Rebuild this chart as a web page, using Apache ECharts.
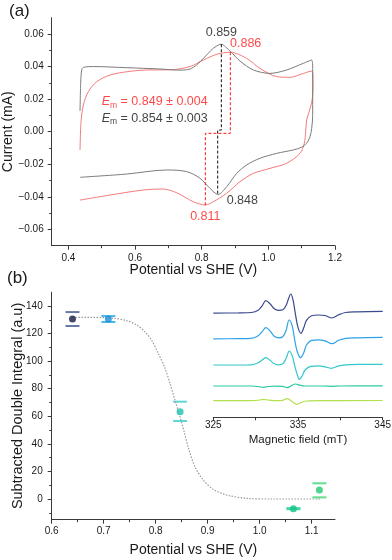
<!DOCTYPE html>
<html>
<head>
<meta charset="utf-8">
<script src="https://cdn.jsdelivr.net/npm/echarts@6/dist/echarts.min.js"></script>
<style>
  html, body { margin: 0; padding: 0; background: #fff; }
  #chart { width: 392px; height: 560px; }
</style>
</head>
<body>
<div id="chart"></div>
<script>
// (a) cyclic voltammograms, [potential V, current mA] in sweep order
const cvGray = [
  [0.435, 0.0127], [0.437, 0.030], [0.440, 0.0379], [0.445, 0.0395], [0.475, 0.0400],
  [0.575, 0.0393], [0.675, 0.0385], [0.735, 0.0378], [0.765, 0.0385], [0.785, 0.0410],
  [0.805, 0.0450], [0.835, 0.0512], [0.858, 0.0537], [0.885, 0.0495], [0.915, 0.0434],
  [0.955, 0.0379], [1.005, 0.0358], [1.055, 0.0379], [1.105, 0.0420], [1.130, 0.0440],
  [1.133, 0.0380], [1.133, 0.0100], [1.130, 0.0020], [1.125, -0.0030], [1.115, -0.0071],
  [1.100, -0.0095], [1.075, -0.0112], [1.025, -0.0133], [0.975, -0.0163], [0.935, -0.0204],
  [0.905, -0.0256], [0.875, -0.0338], [0.849, -0.0385], [0.825, -0.0348], [0.795, -0.0286],
  [0.755, -0.0245], [0.695, -0.0235], [0.575, -0.0260], [0.435, -0.0280]
];
const cvRed = [
  [0.435, -0.0112], [0.438, 0.0061], [0.445, 0.0164], [0.460, 0.0246], [0.485, 0.0307],
  [0.525, 0.0348], [0.575, 0.0368], [0.635, 0.0379], [0.705, 0.0380], [0.765, 0.0400],
  [0.805, 0.0440], [0.845, 0.0475], [0.886, 0.0488], [0.935, 0.0450], [0.975, 0.0389],
  [1.025, 0.0338], [1.065, 0.0334], [1.105, 0.0358], [1.130, 0.0372], [1.134, 0.0340],
  [1.134, 0.0250], [1.130, 0.0180], [1.122, 0.0120], [1.115, 0.0072], [1.112, 0.0000],
  [1.108, -0.0070], [1.095, -0.0133], [1.055, -0.0194], [1.005, -0.0225], [0.955, -0.0256],
  [0.915, -0.0307], [0.875, -0.0378], [0.835, -0.0430], [0.811, -0.0450], [0.775, -0.0430],
  [0.725, -0.0375], [0.685, -0.0352], [0.625, -0.0358], [0.525, -0.0389], [0.435, -0.0420]
];
// peak / midpoint construction lines
const emGray = [[0.859, 0.0537], [0.859, 0.001], [0.848, 0.001], [0.848, -0.0389]];
const emRed = [[0.886, 0.0488], [0.886, -0.001], [0.811, -0.001], [0.811, -0.046]];
// annotation anchors [x, y, text]
const labelsBlack = [[0.859, 0.0609, '0.859']];
const labelsBlackLeft = [[0.875, -0.0422, '0.848']];
const labelsRed = [[0.811, -0.0522, '0.811']];
const labelsRedLeft = [[0.885, 0.054, '0.886']];
const emTextRed = [[0.50, 0.0184, '0.849 ± 0.004']];
const emTextBlack = [[0.50, 0.0082, '0.854 ± 0.003']];

// (b) subtracted double integral vs potential
const potential = [0.640, 0.709, 0.847, 1.065, 1.115];
const integral = [130.6, 130.6, 63.3, -7.0, 6.5];
const errLow = [125.5, 128.4, 56.6, -7.4, 1.2];
const errHigh = [135.6, 132.7, 70.6, -6.6, 11.4];
const pointColors = ['#141a42', '#1e8fd6', '#1cc0b2', '#12c482', '#26c870'];
const capColors = ['#6a78a8', '#4cb8ee', '#62d6d8', '#48d8aa', '#5ee08e'];
const fitV = [0.640, 0.700, 0.720, 0.744, 0.7635, 0.779, 0.792, 0.805, 0.818, 0.8275, 0.837,
  0.847, 0.855, 0.863, 0.8756, 0.8915, 0.9108, 0.9365, 0.975, 1.026, 1.116];
const fitY = [131.8, 131.6, 131.1, 129.4, 126.2, 121.4, 115.3, 105.7, 94.8, 83.9, 71.8,
  59.5, 48.5, 37.0, 23.4, 13.8, 7.0, 2.9, 0.5, 0.0, 0.0];

// inset: EPR spectra, [field mT, offset trace value]
const epr1 = [[325, 104.2], [328, 104.4], [329.5, 104.8], [330.3, 107], [330.8, 112], [331.2, 116.6],
  [331.7, 113.5], [332.2, 108.5], [332.7, 107], [333.2, 107.5], [333.6, 112], [333.9, 119],
  [334.13, 123.3], [334.4, 118], [334.7, 103], [335, 90], [335.35, 84], [335.7, 90], [336, 97],
  [336.6, 101.6], [337.4, 102.3], [338.2, 101.8], [339, 99.3], [339.8, 102.5], [340.6, 104.8],
  [342, 105.5], [345, 106]];
const epr2 = [[325, 78.5], [328, 78.6], [329.5, 79], [330.3, 81.5], [330.8, 86], [331.2, 89.6],
  [331.7, 86.5], [332.2, 81], [332.7, 79.5], [333.2, 80.5], [333.6, 87], [333.95, 97.3],
  [334.3, 92], [334.6, 78], [334.9, 66], [335.3, 59.6], [335.7, 65], [336, 72.3], [336.6, 77],
  [337.4, 77.5], [338.2, 76.5], [339, 73.6], [339.8, 77], [340.6, 79], [342, 79.5], [345, 80]];
const epr3 = [[325, 52.3], [328, 52.3], [329.5, 52.5], [330.3, 54.5], [330.8, 57.5], [331.2, 59.6],
  [331.7, 57], [332.2, 53.5], [332.7, 52.5], [333.2, 53.5], [333.6, 59], [333.98, 66.3],
  [334.3, 62], [334.6, 52], [334.9, 43], [335.16, 38], [335.5, 41.5], [335.83, 47.3], [336.5, 51],
  [337.4, 51.5], [338.2, 50.5], [338.9, 49], [339.8, 51.5], [340.6, 52.5], [342, 53], [345, 53]];
const epr4 = [[325, 31.3], [329.5, 31.3], [330.5, 30.5], [330.9, 30], [331.5, 30.8], [332.5, 31.2],
  [333.2, 31], [333.7, 29.6], [334.1, 31], [334.7, 33.3], [335.2, 32.2], [335.8, 31.3],
  [338, 31.3], [339, 31], [340, 31.3], [345, 31.4]];
const epr5 = [[325, 16.6], [329.5, 16.7], [330.5, 17.3], [330.9, 18], [331.5, 17.2], [332.5, 16.6],
  [333.2, 17], [333.7, 18.6], [334.1, 17], [334.5, 14.5], [334.9, 13], [335.4, 14.8], [336, 16.3],
  [338, 16.6], [345, 16.8]];
const eprColors = ['#3b4a8f', '#2ea3e6', '#33c8cc', '#2ccaa6', '#b2e04e'];

// tick positions
const topXMajor = [0.4, 0.6, 0.8, 1.0, 1.2];
const topXMinor = [0.5, 0.7, 0.9, 1.1];
const topYMajor = [-0.06, -0.04, -0.02, 0, 0.02, 0.04, 0.06];
const topYMinor = [-0.05, -0.03, -0.01, 0.01, 0.03, 0.05];
const botXMajor = [0.6, 0.7, 0.8, 0.9, 1.0, 1.1];
const botXMinor = [0.65, 0.75, 0.85, 0.95, 1.05];
const botYMajor = [0, 20, 40, 60, 80, 100, 120, 140];
const botYMinor = [-10, 10, 30, 50, 70, 90, 110, 130];
const insetTicks = [325, 330, 335, 340, 345];
const insetLabels = [325, 335, 345];

const FONT = 'Liberation Sans';
const AXC = '#3a3a3a';
const TXT = '#1a1a1a';

function mainAxis(gridIndex, min, max, labels, ticks, fmt, extra) {
  return Object.assign({
    type: 'value', gridIndex, min, max, nameMoveOverlap: false,
    axisLine: { show: true, onZero: false, lineStyle: { color: AXC, width: 1 } },
    axisTick: { show: true, customValues: ticks, length: 4, lineStyle: { color: AXC } },
    axisLabel: { customValues: labels, formatter: fmt, color: TXT, fontSize: 10, fontFamily: FONT },
    splitLine: { show: false }
  }, extra);
}
function minorAxis(gridIndex, min, max, ticks, position) {
  return {
    type: 'value', gridIndex, min, max, position, offset: 0,
    axisLine: { show: true, onZero: false, lineStyle: { opacity: 0 } },
    axisTick: { show: true, customValues: ticks, length: 2.5, lineStyle: { color: AXC } },
    axisLabel: { show: false },
    splitLine: { show: false }
  };
}
const nameStyle = { color: TXT, fontSize: 14, fontFamily: FONT };

function textSeries(data, color, align, xi, yi) {
  return {
    type: 'scatter', xAxisIndex: xi, yAxisIndex: yi, symbolSize: 0, silent: true, z: 5,
    data: data.map(d => ({ value: [d[0], d[1]], label: { formatter: d[2] } })),
    label: { show: true, position: [0, 0], align, verticalAlign: 'middle',
      color, fontSize: 12.5, fontFamily: FONT }
  };
}
function emSeries(data, color) {
  return {
    type: 'scatter', xAxisIndex: 0, yAxisIndex: 0, symbolSize: 0, silent: true, z: 5,
    data: data.map(d => ({ value: [d[0], d[1]], label: { formatter: '{e|E}{s|m}{t| = ' + d[2] + '}' } })),
    label: { show: true, position: [0, 0], align: 'left', verticalAlign: 'middle',
      rich: {
        e: { fontStyle: 'italic', fontSize: 12.5, color, fontFamily: FONT, lineHeight: 16 },
        s: { fontSize: 8.5, color, fontFamily: FONT, lineHeight: 16, padding: [7, 0, 0, 0] },
        t: { fontSize: 12.5, color, fontFamily: FONT, lineHeight: 16 }
      } }
  };
}

const chart = echarts.init(document.getElementById('chart'), null, { renderer: 'canvas' });
chart.setOption({
  animation: false,
  backgroundColor: '#fff',
  textStyle: { fontFamily: FONT },
  grid: [
    { left: 51.7, width: 283.3, top: 17.7, height: 228, outerBoundsMode: 'none' },
    { left: 51.7, width: 283.3, top: 292.2, height: 227.5, outerBoundsMode: 'none' },
    { left: 213.3, width: 169.4, top: 287.3, height: 130, outerBoundsMode: 'none' }
  ],
  graphic: [
    { type: 'text', left: 9, top: 3, style: { text: '(a)', fontSize: 17, fill: TXT, fontFamily: FONT } },
    { type: 'text', left: 7, top: 270, style: { text: '(b)', fontSize: 17, fill: TXT, fontFamily: FONT } }
  ],
  xAxis: [
    mainAxis(0, 0.35, 1.2, topXMajor, topXMajor, v => v.toFixed(1), {
      position: 'bottom', name: 'Potential vs SHE (V)', nameLocation: 'middle', nameGap: 17,
      nameTextStyle: nameStyle, axisLabel: { customValues: topXMajor, formatter: v => v.toFixed(1),
        color: TXT, fontSize: 10, fontFamily: FONT, margin: 8 } }),
    minorAxis(0, 0.35, 1.2, topXMinor, 'bottom'),
    mainAxis(1, 0.6, 1.145, botXMajor, botXMajor, v => v.toFixed(1), {
      position: 'bottom', name: 'Potential vs SHE (V)', nameLocation: 'middle', nameGap: 23,
      nameTextStyle: nameStyle, axisLabel: { customValues: botXMajor, formatter: v => v.toFixed(1),
        color: TXT, fontSize: 10, fontFamily: FONT, margin: 7 } }),
    minorAxis(1, 0.6, 1.145, botXMinor, 'bottom'),
    mainAxis(2, 325, 345, insetLabels, insetTicks, v => String(Math.round(v)), {
      position: 'bottom', name: 'Magnetic field (mT)', nameLocation: 'middle', nameGap: 17,
      nameTextStyle: { color: TXT, fontSize: 11.5, fontFamily: FONT },
      axisTick: { show: true, customValues: insetTicks, length: 3, lineStyle: { color: AXC } },
      axisLabel: { customValues: insetLabels, formatter: v => String(Math.round(v)),
        color: TXT, fontSize: 10, fontFamily: FONT, margin: 3 } })
  ],
  yAxis: [
    mainAxis(0, -0.07, 0.07, topYMajor, topYMajor,
      v => (v < -1e-9 ? '\u2212' : '') + Math.abs(v).toFixed(2), {
      position: 'left', name: 'Current (mA)', nameLocation: 'middle', nameGap: 37,
      nameTextStyle: nameStyle }),
    minorAxis(0, -0.07, 0.07, topYMinor, 'left'),
    mainAxis(1, -15, 150, botYMajor, botYMajor, v => String(Math.round(v)), {
      position: 'left', name: 'Subtracted Double Integral (a.u)', nameLocation: 'middle', nameGap: 26,
      nameTextStyle: { color: TXT, fontSize: 14.5, fontFamily: FONT },
      axisLabel: { customValues: botYMajor, formatter: v => String(Math.round(v)),
        color: TXT, fontSize: 10, fontFamily: FONT, margin: 9 } }),
    minorAxis(1, -15, 150, botYMinor, 'left'),
    { type: 'value', gridIndex: 2, min: 0, max: 130, show: false }
  ],
  series: [
    { type: 'line', xAxisIndex: 0, yAxisIndex: 0, data: cvRed, showSymbol: false, smooth: 0.3,
      lineStyle: { color: '#f47a7a', width: 1 } },
    { type: 'line', xAxisIndex: 0, yAxisIndex: 0, data: cvGray, showSymbol: false, smooth: 0.3,
      lineStyle: { color: '#7c7c7c', width: 1 } },
    { type: 'line', xAxisIndex: 0, yAxisIndex: 0, data: emRed, showSymbol: false, z: 4,
      lineStyle: { color: '#ff1a1a', width: 1, type: [3, 2] } },
    { type: 'line', xAxisIndex: 0, yAxisIndex: 0, data: emGray, showSymbol: false, z: 4,
      lineStyle: { color: '#111', width: 1, type: [3, 2] } },
    textSeries(labelsBlack, '#111', 'center', 0, 0),
    textSeries(labelsBlackLeft, '#111', 'left', 0, 0),
    textSeries(labelsRed, '#ff1a1a', 'center', 0, 0),
    textSeries(labelsRedLeft, '#ff1a1a', 'left', 0, 0),
    emSeries(emTextRed, '#ff1a1a'),
    emSeries(emTextBlack, '#111'),

    { type: 'line', xAxisIndex: 2, yAxisIndex: 2, data: fitV.map((v, i) => [v, fitY[i]]),
      showSymbol: false, smooth: 0.3, lineStyle: { color: '#9a9a9a', width: 1.2, type: [1.5, 1.5] } },
    { type: 'custom', xAxisIndex: 2, yAxisIndex: 2, z: 3,
      data: potential.map((v, i) => [v, errLow[i], errHigh[i]]),
      encode: { x: 0, y: [1, 2] },
      renderItem: function (params, api) {
        const lo = api.coord([api.value(0), api.value(1)]);
        const hi = api.coord([api.value(0), api.value(2)]);
        const c = capColors[params.dataIndex];
        return { type: 'group', children: [
          { type: 'line', shape: { x1: lo[0] - 7, y1: lo[1], x2: lo[0] + 7, y2: lo[1] },
            style: { stroke: c, lineWidth: 2 } },
          { type: 'line', shape: { x1: hi[0] - 7, y1: hi[1], x2: hi[0] + 7, y2: hi[1] },
            style: { stroke: c, lineWidth: 2 } }
        ] };
      } },
    { type: 'scatter', xAxisIndex: 2, yAxisIndex: 2, symbolSize: 7, z: 4,
      data: potential.map((v, i) => [v, integral[i]]),
      itemStyle: { color: p => pointColors[p.dataIndex] } },

    ...[epr1, epr2, epr3, epr4, epr5].map((d, i) => ({
      type: 'line', xAxisIndex: 4, yAxisIndex: 4, data: d, showSymbol: false, smooth: 0.35,
      lineStyle: { color: eprColors[i], width: 1.2 } }))
  ]
});
</script>
</body>
</html>
